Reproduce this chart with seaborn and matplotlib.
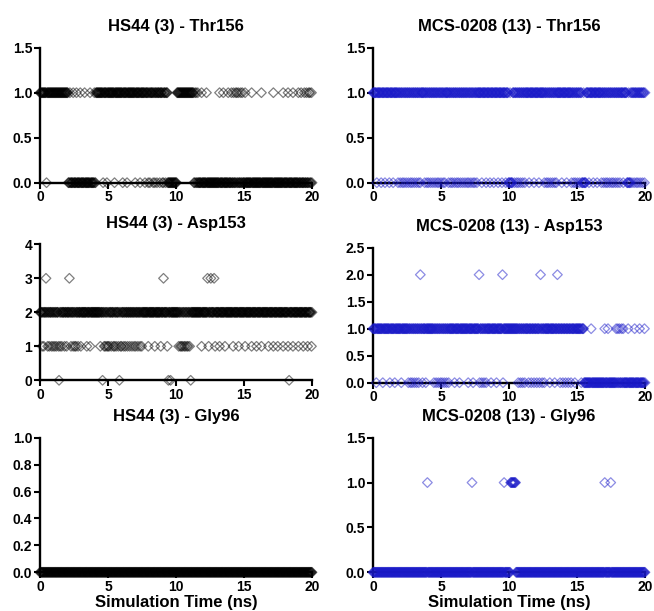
import numpy as np
import pandas as pd
import matplotlib
matplotlib.use("Agg")
import matplotlib.pyplot as plt
import seaborn as sns

# ---------------- data ----------------
# Simulation sampled every FRAME_NS; each panel given as dense runs (start, end, state)
# plus individual frames that jump to another state.
FRAME_NS = 0.04
SIM_END = 20.0

titles = ["HS44 (3) - Thr156", "MCS-0208 (13) - Thr156",
          "HS44 (3) - Asp153", "MCS-0208 (13) - Asp153",
          "HS44 (3) - Gly96", "MCS-0208 (13) - Gly96"]

# HS44 Thr156
hs_thr_runs = [(0.0, 2.05, 1), (2.05, 4.1, 0), (4.1, 9.4, 1), (9.4, 10.05, 0),
               (10.05, 11.3, 1), (11.3, 20.01, 0)]
hs_thr_to0 = [0.5, 4.65, 4.9, 5.5, 6.1, 6.4, 7.0, 7.35, 7.7, 7.95, 8.1, 8.3, 8.45,
              8.6, 8.8, 9.0, 9.1, 9.25]
hs_thr_to1 = [2.2, 2.45, 2.7, 2.95, 3.3, 3.7, 4.0, 11.4, 11.5, 11.6, 11.9, 12.25,
              13.2, 13.5, 13.85, 14.1, 14.25, 14.4, 14.5, 14.6, 14.75, 14.9, 15.1,
              15.55, 16.3, 17.15, 17.9, 18.25, 18.6, 19.0, 19.2, 19.45, 19.6, 19.75,
              19.85, 19.95]

# MCS-0208 Thr156
mcs_thr_runs = [(0.0, 9.95, 1), (9.95, 10.25, 0), (10.25, 15.35, 1), (15.35, 15.65, 0),
                (15.65, 18.65, 1), (18.65, 18.95, 0), (18.95, 20.01, 1)]
mcs_thr_to0 = [0.3, 0.6, 0.9, 1.2, 1.5, 1.85, 2.0, 2.15, 2.3, 2.45, 2.6, 2.75, 2.9,
               3.05, 3.2, 3.35, 3.5, 3.8, 3.95, 4.1, 4.25, 4.4, 4.55, 4.7, 4.85, 5.0,
               5.15, 5.3, 5.55, 5.7, 5.85, 6.0, 6.15, 6.3, 6.45, 6.6, 6.75, 6.9, 7.05,
               7.2, 7.35, 7.5, 7.65, 8.0, 8.3, 8.6, 8.9, 9.2, 9.5, 9.75, 10.4, 10.55,
               10.7, 10.85, 11.0, 11.15, 11.5, 11.85, 12.2, 12.6, 12.75, 12.9, 13.05,
               13.2, 13.35, 13.5, 13.9, 14.25, 14.6, 14.75, 14.9, 15.05, 15.2, 15.9,
               16.2, 16.5, 16.8, 16.95, 17.1, 17.25, 17.4, 17.55, 17.7, 17.85, 18.0,
               18.15, 18.4, 19.05, 19.2, 19.35, 19.5, 19.65, 19.8, 19.95]
mcs_thr_to1 = [10.1, 15.5, 18.8]

# HS44 Asp153
hs_asp_runs = [(0.0, 20.01, 2)]
hs_asp_to1 = [0.15, 0.3, 0.45, 0.55, 0.7, 0.85, 0.95, 1.1, 1.2, 1.35, 1.5, 1.6, 1.8,
              1.95, 2.3, 2.45, 2.55, 2.65, 2.8, 3.0, 3.43, 3.68, 4.45, 4.6, 4.7, 4.8,
              4.9, 5.0, 5.1, 5.25, 5.4, 5.5, 5.6, 5.75, 5.9, 6.0, 6.15, 6.3, 6.45, 6.6,
              6.75, 6.9, 7.05, 7.2, 7.35, 7.5, 7.95, 8.45, 8.9, 9.35, 10.2, 10.3, 10.4,
              10.5, 10.6, 10.7, 10.8, 10.9, 11.0, 11.1, 11.9, 12.4, 12.9, 13.2, 13.6,
              14.2, 14.6, 15.07, 15.56, 15.93, 16.3, 16.8, 17.15, 17.5, 17.9, 18.25,
              18.6, 19.0, 19.35, 19.7, 19.96]
hs_asp_to3 = [0.44, 2.15, 9.1, 12.3, 12.55, 12.8]
hs_asp_to0 = [1.42, 4.6, 5.83, 9.43, 9.6, 11.08, 18.33]

# MCS-0208 Asp153
mcs_asp_runs = [(0.0, 15.5, 1), (15.5, 20.01, 0)]
mcs_asp_to0 = [0.25, 0.74, 1.23, 1.6, 2.08, 2.6, 2.75, 2.9, 3.05, 3.2, 3.35, 3.5, 3.65,
               3.9, 4.5, 4.65, 4.8, 4.95, 5.1, 5.25, 5.4, 5.55, 6.0, 6.37, 6.98, 7.35,
               7.85, 8.0, 8.15, 8.3, 8.7, 9.07, 9.56, 10.7, 10.85, 11.0, 11.15, 11.45,
               11.65, 11.85, 12.05, 12.25, 12.45, 12.6, 13.0, 13.36, 13.75, 13.95,
               14.15, 14.35, 14.55, 14.83, 15.3]
mcs_asp_to1 = [16.05, 17.04, 17.28, 17.9, 18.0, 18.1, 18.26, 18.4, 18.75, 19.24,
               19.6, 19.96]
mcs_asp_to2 = [3.5, 7.8, 9.54, 12.33, 13.55]

# HS44 Gly96
hs_gly_runs = [(0.0, 20.01, 0)]

# MCS-0208 Gly96
mcs_gly_runs = [(0.0, 10.1, 0), (10.1, 10.5, 1), (10.5, 20.01, 0)]
mcs_gly_to1 = [4.02, 7.3, 9.63, 17.06, 17.5]

x_ticks = [0, 5, 10, 15, 20]
y_ticks_list = [[0, 0.5, 1.0, 1.5], [0, 0.5, 1.0, 1.5],
                [0, 1, 2, 3, 4], [0, 0.5, 1.0, 1.5, 2.0, 2.5],
                [0, 0.2, 0.4, 0.6, 0.8, 1.0], [0, 0.5, 1.0, 1.5]]
y_fmt = ["{:.1f}", "{:.1f}", "{:.0f}", "{:.1f}", "{:.1f}", "{:.1f}"]
x_label = "Simulation Time (ns)"

BLACK = "#000000"
BLUE = "#1A1AC8"


def build(runs, jumps):
    t = np.round(np.arange(0, SIM_END + FRAME_NS / 2, FRAME_NS), 3)
    s = np.full(t.shape, np.nan)
    for a, b, v in runs:
        s[(t >= a - 1e-9) & (t < b)] = v
    for v, times in jumps:
        for tt in times:
            s[np.argmin(np.abs(t - tt))] = v
    return pd.DataFrame({"time": t, "state": s}).dropna()


panels = [
    (build(hs_thr_runs, [(0, hs_thr_to0), (1, hs_thr_to1)]), BLACK),
    (build(mcs_thr_runs, [(0, mcs_thr_to0), (1, mcs_thr_to1)]), BLUE),
    (build(hs_asp_runs, [(1, hs_asp_to1), (3, hs_asp_to3), (0, hs_asp_to0)]), BLACK),
    (build(mcs_asp_runs, [(0, mcs_asp_to0), (1, mcs_asp_to1), (2, mcs_asp_to2)]), BLUE),
    (build(hs_gly_runs, []), BLACK),
    (build(mcs_gly_runs, [(1, mcs_gly_to1)]), BLUE),
]

# ---------------- drawing ----------------
sns.set_style("ticks")
plt.rcParams["font.family"] = ["Liberation Sans", "DejaVu Sans"]
plt.rcParams["font.weight"] = "bold"
plt.rcParams["text.color"] = "black"
plt.rcParams["axes.labelcolor"] = "black"

W, H = 654, 611
fig = plt.figure(figsize=(W / 100, H / 100), dpi=100)

# axes boxes in pixels: (left, top, right, bottom)
boxes = [(40, 47.7, 312, 182.7), (373, 47.7, 645, 182.7),
         (40, 244.3, 312, 380.3), (373, 247.7, 645, 382.7),
         (40, 437.7, 312, 572.3), (373, 437.7, 645, 572.3)]

for i, ((df, col), (l, t, r, b)) in enumerate(zip(panels, boxes)):
    ax = fig.add_axes([l / W, (H - b) / H, (r - l) / W, (b - t) / H])
    sns.scatterplot(data=df, x="time", y="state", ax=ax, marker="D", s=24,
                    color=col, facecolor="none", edgecolor=col, linewidth=0.9,
                    alpha=0.5, clip_on=False, legend=False, zorder=3)
    yt = y_ticks_list[i]
    ax.set_xlim(0, 20)
    ax.set_ylim(0, yt[-1])
    ax.set_xticks(x_ticks)
    ax.set_xticklabels([str(v) for v in x_ticks])
    ax.set_yticks(yt)
    ax.set_yticklabels([y_fmt[i].format(v) for v in yt])
    sns.despine(ax=ax)
    for sp in ["left", "bottom"]:
        ax.spines[sp].set_linewidth(1.7)
        ax.spines[sp].set_color("black")
    ax.tick_params(axis="both", length=4, width=1.5, color="black",
                   labelsize=10, pad=1.5, labelcolor="black")
    for lab in ax.get_xticklabels() + ax.get_yticklabels():
        lab.set_fontweight("bold")
    ax.set_title(titles[i], fontsize=12, fontweight="bold", pad=12, color="black")
    ax.set_ylabel("")
    if i >= 4:
        ax.set_xlabel(x_label, fontsize=12, fontweight="bold", labelpad=1,
                      color="black")
    else:
        ax.set_xlabel("")

fig.savefig("out.png", dpi=100)
